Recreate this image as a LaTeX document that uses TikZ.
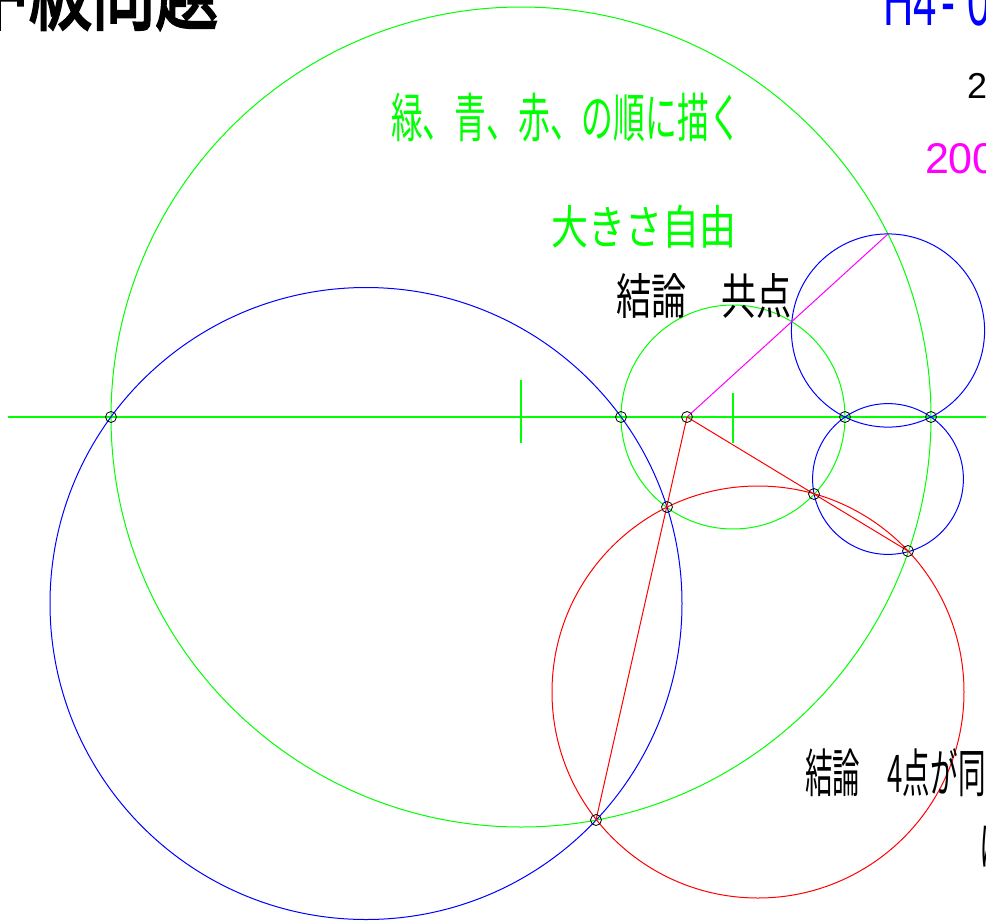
\documentclass[tikz,border=0pt]{standalone}
\usepackage{fontspec}
\usepackage{graphicx}
\setmainfont{Liberation Sans}
\newfontfamily\cjk{Noto Sans CJK JP}
\newfontfamily\cjkbold[FakeBold=3]{Noto Sans CJK JP}
\definecolor{pgreen}{RGB}{0,255,0}
\definecolor{pblue}{RGB}{0,0,255}
\definecolor{pred}{RGB}{255,0,0}
\definecolor{pmag}{RGB}{255,0,255}
\begin{document}
\begin{tikzpicture}[x=1pt,y=-1pt,
  gline/.style={draw=pgreen, line width=1pt},
  axisline/.style={draw=pgreen, line width=2pt},
  bline/.style={draw=pblue, line width=1pt},
  rline/.style={draw=pred, line width=1pt},
  mline/.style={draw=pmag, line width=1pt},
  ptmark/.style={circle, draw=black, line width=0.8pt, minimum size=11pt, inner sep=0pt},
  txt/.style={inner sep=0pt, outer sep=0pt}]
\useasboundingbox (0,0) rectangle (986,922);
\clip (0,0) rectangle (986,922);
% coordinates
\coordinate (L) at (8,417);
\coordinate (R) at (990,417);
\coordinate (G1) at (521,417);
\coordinate (G2) at (733,417);
\coordinate (B1) at (366,603.5);
\coordinate (B2) at (888,330.5);
\coordinate (B3) at (888,479);
\coordinate (C) at (758,692);
\coordinate (T1a) at (521,380);
\coordinate (T1b) at (521,443);
\coordinate (T2a) at (733,393);
\coordinate (T2b) at (733,443);
\coordinate (Q) at (888,234);
\coordinate (p1) at (111,417);
\coordinate (p2) at (621,417);
\coordinate (p3) at (687,417);
\coordinate (p4) at (845,417);
\coordinate (p5) at (931,417);
\coordinate (p6) at (667,507);
\coordinate (p7) at (814,494);
\coordinate (p8) at (908,551);
\coordinate (p9) at (596,820);
% green
\draw[gline] (G1) circle[radius=410pt];
\draw[gline] (G2) circle[radius=112pt];
\draw[axisline] (L) -- (R);
\draw[axisline] (T1a) -- (T1b);
\draw[axisline] (T2a) -- (T2b);
% blue
\draw[bline] (B1) circle[radius=316pt];
\draw[bline] (B2) circle[radius=96.6pt];
\draw[bline] (B3) circle[radius=75.4pt];
% magenta
\draw[mline] (p3) -- (Q);
% red
\draw[rline] (C) circle[radius=206pt];
\draw[rline] (p3) -- (p9);
\draw[rline] (p3) -- (p8);
% markers
\foreach \i in {1,...,9} {\node[ptmark] (m\i) at (p\i) {};}
% texts
\node[txt, anchor=south east] (title) at (218,30) {\scalebox{0.7}[1]{\cjkbold\fontsize{90}{90}\selectfont 中級問題}};
\node[txt, anchor=base west, text=pblue] (code) at (883,25) {\scalebox{0.6}[1]{\fontsize{70}{70}\selectfont H4\kern8pt-\kern20pt0}};
\node[txt, anchor=base west] (d1) at (967,98) {\fontsize{36}{36}\selectfont 2};
\node[txt, anchor=base west, text=pmag] (d2) at (925,173) {\fontsize{43}{43}\selectfont 200};
\node[txt, anchor=north west, text=pgreen] (t1) at (391,93) {\resizebox*{350pt}{49pt}{\cjk 緑、青、赤、の順に描く}};
\node[txt, anchor=north west, text=pgreen] (t2) at (551,205) {\resizebox*{185pt}{43pt}{\cjk 大きさ自由}};
\node[txt, anchor=north west] (t3) at (616,273) {\resizebox*{176pt}{45pt}{\cjk 結論　共点}};
\node[txt, anchor=south west] (t4) at (805,797) {\scalebox{0.53}[1]{\cjk\fontsize{52}{52}\selectfont 結論　4点が同一円周上}};
\node[txt, anchor=base west] (t5) at (979,865) {\scalebox{0.53}[1]{\cjk\fontsize{52}{52}\selectfont にある}};
\end{tikzpicture}
\end{document}
